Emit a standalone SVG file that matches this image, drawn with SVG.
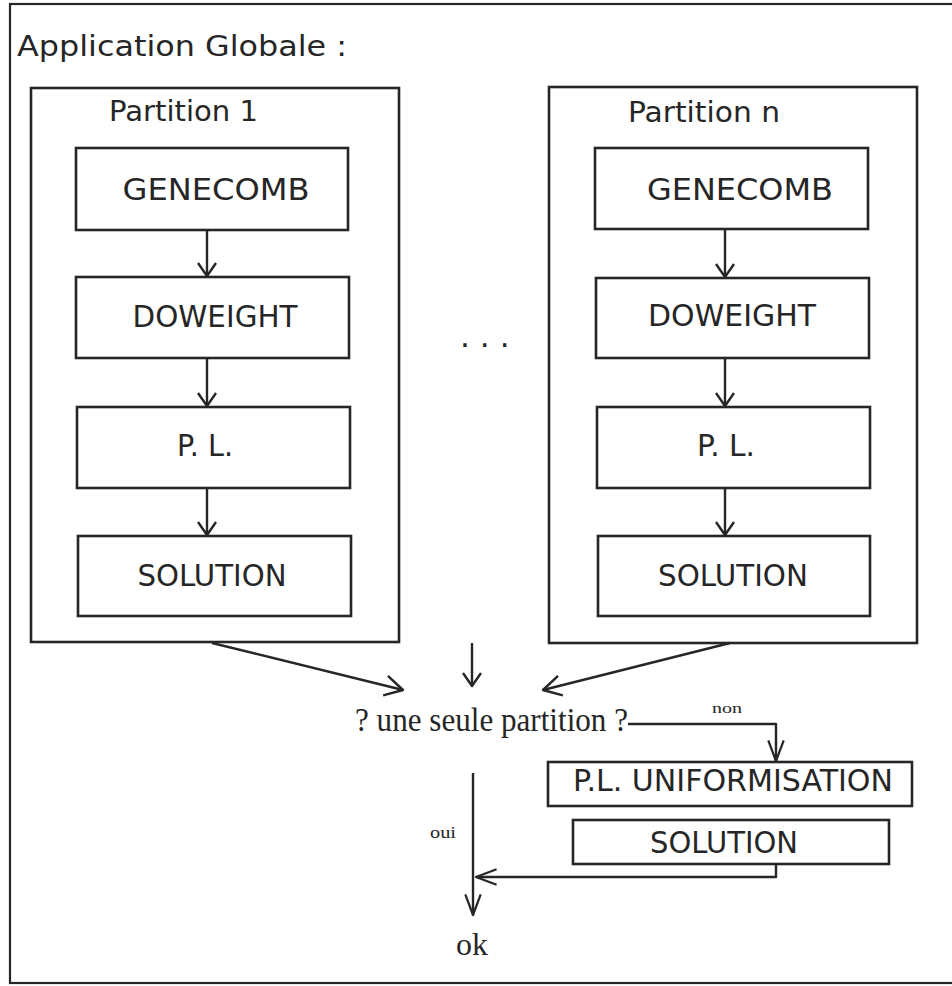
<svg xmlns="http://www.w3.org/2000/svg" width="952" height="986" viewBox="0 0 952 986">
<style>
.frame{fill:none;stroke:#262626;stroke-width:2.2}
.box{fill:none;stroke:#262626;stroke-width:2.6}
.lbl{font-family:"DejaVu Sans","Liberation Sans",sans-serif;fill:#262626;font-size:31px}
.ttl{font-family:"DejaVu Sans","Liberation Sans",sans-serif;fill:#262626;font-size:29px}
.ser{font-family:"Liberation Serif","Times New Roman",serif;fill:#262626}
.ln{fill:none;stroke:#262626;stroke-width:2.4;stroke-linejoin:round}
</style>
<defs>
<marker id="as" markerUnits="userSpaceOnUse" orient="auto" refX="0" refY="0" markerWidth="30" markerHeight="30" viewBox="-20 -15 30 30" overflow="visible">
<path d="M-13,-9 L0,0 L-13,9" fill="none" stroke="#262626" stroke-width="2.4" stroke-linejoin="round"/>
</marker>
<marker id="am" markerUnits="userSpaceOnUse" orient="auto" refX="0" refY="0" markerWidth="30" markerHeight="30" viewBox="-20 -15 30 30" overflow="visible">
<path d="M-18,-10 L0,0 L-18,10" fill="none" stroke="#262626" stroke-width="2.4" stroke-linejoin="round"/>
</marker>
<marker id="al" markerUnits="userSpaceOnUse" orient="auto" refX="0" refY="0" markerWidth="30" markerHeight="30" viewBox="-30 -15 35 30" overflow="visible">
<path d="M-24,-9 L0,0 L-24,9" fill="none" stroke="#262626" stroke-width="2.6" stroke-linejoin="round"/>
</marker>
</defs>
<rect x="0" y="0" width="952" height="986" fill="#ffffff"/>

<g id="frame">
<rect class="frame" x="10" y="4" width="960" height="979"/>
<text class="ttl" x="17" y="56" textLength="330" lengthAdjust="spacingAndGlyphs">Application Globale :</text>
</g>

<g id="partition1">
<rect class="box" x="31" y="88" width="368" height="554"/>
<text class="ttl" x="109" y="121" textLength="149" lengthAdjust="spacingAndGlyphs">Partition 1</text>
</g>
<g id="p1-genecomb">
<rect class="box" x="76" y="148" width="272" height="82"/>
<text class="lbl" x="216" y="200" text-anchor="middle" textLength="187" lengthAdjust="spacingAndGlyphs">GENECOMB</text>
</g>
<g id="p1-doweight">
<rect class="box" x="76" y="277" width="273" height="81"/>
<text class="lbl" x="215" y="327" text-anchor="middle" textLength="165" lengthAdjust="spacingAndGlyphs">DOWEIGHT</text>
</g>
<g id="p1-pl">
<rect class="box" x="77" y="407" width="273" height="81"/>
<text class="lbl" x="205" y="456" text-anchor="middle" textLength="56" lengthAdjust="spacingAndGlyphs">P. L.</text>
</g>
<g id="p1-solution">
<rect class="box" x="78" y="536" width="273" height="80"/>
<text class="lbl" x="212" y="586" text-anchor="middle" textLength="149" lengthAdjust="spacingAndGlyphs">SOLUTION</text>
</g>

<g id="dots">
<text class="lbl" x="460" y="347" letter-spacing="10" font-size="32">...</text>
</g>

<g id="partitionN">
<rect class="box" x="549" y="87" width="368" height="556"/>
<text class="ttl" x="628" y="122" textLength="152" lengthAdjust="spacingAndGlyphs">Partition n</text>
</g>
<g id="pn-genecomb">
<rect class="box" x="595" y="148" width="273" height="81"/>
<text class="lbl" x="740" y="200" text-anchor="middle" textLength="186" lengthAdjust="spacingAndGlyphs">GENECOMB</text>
</g>
<g id="pn-doweight">
<rect class="box" x="596" y="278" width="273" height="80"/>
<text class="lbl" x="732" y="326" text-anchor="middle" textLength="168" lengthAdjust="spacingAndGlyphs">DOWEIGHT</text>
</g>
<g id="pn-pl">
<rect class="box" x="597" y="407" width="273" height="81"/>
<text class="lbl" x="726" y="456" text-anchor="middle" textLength="58" lengthAdjust="spacingAndGlyphs">P. L.</text>
</g>
<g id="pn-solution">
<rect class="box" x="598" y="536" width="272" height="80"/>
<text class="lbl" x="733" y="586" text-anchor="middle" textLength="150" lengthAdjust="spacingAndGlyphs">SOLUTION</text>
</g>

<g id="question">
<text class="ser" x="355" y="731" font-size="33" textLength="273" lengthAdjust="spacingAndGlyphs">? une seule partition ?</text>
</g>

<g id="uniformisation">
<rect class="box" x="548" y="762" width="364" height="44"/>
<text class="lbl" x="573" y="791" textLength="320" lengthAdjust="spacingAndGlyphs">P.L. UNIFORMISATION</text>
</g>
<g id="solution-final">
<rect class="box" x="573" y="820" width="316" height="44"/>
<text class="lbl" x="650" y="853" textLength="148" lengthAdjust="spacingAndGlyphs">SOLUTION</text>
</g>

<g id="ok">
<text class="ser" x="472" y="955" font-size="32" text-anchor="middle">ok</text>
</g>

<g id="connectors">
<line class="ln" x1="207" y1="230" x2="207" y2="276" marker-end="url(#as)"/>
<line class="ln" x1="207" y1="358" x2="207" y2="406" marker-end="url(#as)"/>
<line class="ln" x1="207" y1="488" x2="207" y2="535" marker-end="url(#as)"/>
<line class="ln" x1="725" y1="229" x2="725" y2="277" marker-end="url(#as)"/>
<line class="ln" x1="725" y1="358" x2="725" y2="406" marker-end="url(#as)"/>
<line class="ln" x1="725" y1="488" x2="725" y2="535" marker-end="url(#as)"/>
<line class="ln" x1="212" y1="643" x2="403" y2="690" marker-end="url(#am)"/>
<line class="ln" x1="730" y1="643" x2="543" y2="690" marker-end="url(#am)"/>
<line class="ln" x1="472" y1="643" x2="472" y2="686" marker-end="url(#as)"/>
<path class="ln" d="M628,724 L776,724 L776,761" marker-end="url(#al)"/>
<path class="ln" d="M776,864 L776,877 L476,877" marker-end="url(#al)"/>
<line class="ln" x1="473" y1="773" x2="473" y2="915" marker-end="url(#al)"/>
<text class="ser" x="712" y="713" font-size="15" textLength="30" lengthAdjust="spacingAndGlyphs">non</text>
<text class="ser" x="430" y="838" font-size="16" textLength="26" lengthAdjust="spacingAndGlyphs">oui</text>
</g>
</svg>
